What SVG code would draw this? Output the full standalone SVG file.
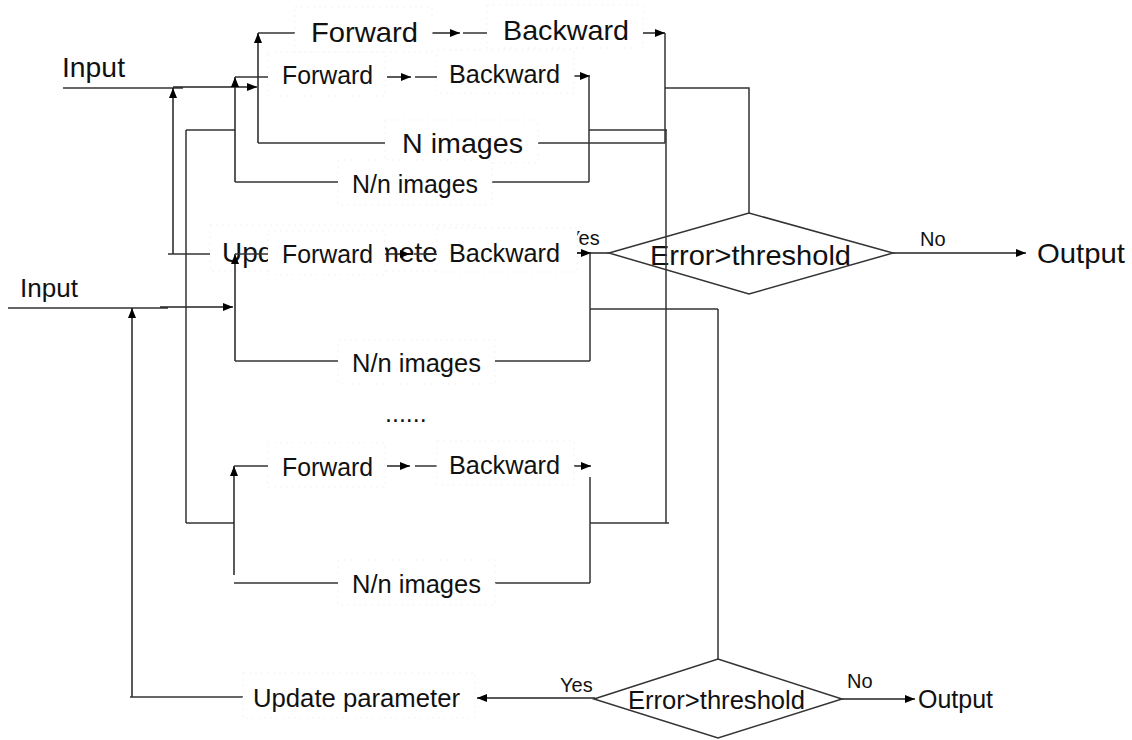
<svg xmlns="http://www.w3.org/2000/svg" width="1132" height="740" viewBox="0 0 1132 740">
<defs>
<marker id="ah" markerWidth="10" markerHeight="8" refX="10" refY="4" orient="auto" markerUnits="userSpaceOnUse">
<path d="M0,0 L10,4 L0,8 Z" fill="#000"/>
</marker>
<style>
.ln{fill:none;stroke:#333;stroke-width:1.5}
.ar{fill:none;stroke:#222;stroke-width:1.5;marker-end:url(#ah)}
.bx{fill:#fff;stroke:#f3f3f3;stroke-width:1;stroke-dasharray:2 4}
.dm{fill:none;stroke:#333;stroke-width:1.5}
text{font-family:"Liberation Sans",Arial,sans-serif;fill:#111}
.t1{font-size:28px}
.t2{font-size:25px}
.ts{font-size:20px}
</style>
</defs>
<rect width="1132" height="740" fill="#fff"/>

<!-- D1 connectors -->
<g id="connectors-d1">
<line class="ln" x1="63" y1="88" x2="183" y2="88"/>
<line class="ar" x1="173" y1="87" x2="257" y2="87"/>
<line class="ar" x1="173" y1="254" x2="173" y2="88"/>
<line class="ln" x1="168" y1="254" x2="210" y2="254"/>
<line class="ar" x1="258" y1="143" x2="258" y2="33"/>
<line class="ln" x1="258" y1="33" x2="295" y2="33"/>
<line class="ln" x1="258" y1="143" x2="385" y2="143"/>
<line class="ar" x1="432" y1="33" x2="460" y2="33"/>
<line class="ln" x1="463" y1="33" x2="487" y2="33"/>
<line class="ar" x1="643" y1="33" x2="665" y2="33"/>
<line class="ln" x1="665" y1="33" x2="665" y2="143"/>
<line class="ln" x1="538" y1="143" x2="665" y2="143"/>
<polyline class="ln" points="665,88 749,88 749,213"/>
<line class="ar" x1="609" y1="253" x2="479" y2="253"/>
<line class="ar" x1="893" y1="253" x2="1026" y2="253"/>
</g>

<!-- D1 nodes -->
<g id="d1-input"><text class="t1" x="62" y="77" textLength="63" lengthAdjust="spacingAndGlyphs">Input</text></g>
<g id="d1-forward"><rect class="bx" x="295" y="7" width="137" height="45"/><text class="t1" x="311" y="42" textLength="107" lengthAdjust="spacingAndGlyphs">Forward</text></g>
<g id="d1-backward"><rect class="bx" x="487" y="5" width="156" height="43"/><text class="t1" x="503" y="40" textLength="126" lengthAdjust="spacingAndGlyphs">Backward</text></g>
<g id="d1-nimages"><rect class="bx" x="385" y="120" width="153" height="43"/><text class="t1" x="402" y="153" textLength="121" lengthAdjust="spacingAndGlyphs">N images</text></g>
<g id="d1-update"><rect class="bx" x="210" y="225" width="267" height="46"/><text class="t1" x="222" y="262" textLength="225" lengthAdjust="spacingAndGlyphs">Update parameter</text></g>
<g id="d1-decision"><polygon class="dm" points="609,253 749,213 893,253 749,294"/><text class="t1" x="650" y="265" textLength="201" lengthAdjust="spacingAndGlyphs">Error&gt;threshold</text></g>
<g id="d1-yes"><text class="ts" x="567" y="245">Yes</text></g>
<g id="d1-no"><text class="ts" x="920" y="246">No</text></g>
<g id="d1-output"><text class="t1" x="1037" y="263" textLength="88" lengthAdjust="spacingAndGlyphs">Output</text></g>

<!-- D2 connectors -->
<g id="connectors-d2">
<line class="ln" x1="8" y1="308" x2="168" y2="308"/>
<line class="ar" x1="160" y1="307" x2="233" y2="307"/>
<line class="ar" x1="132" y1="697" x2="132" y2="308"/>
<line class="ln" x1="130" y1="697" x2="243" y2="697"/>
<line class="ln" x1="186" y1="130" x2="186" y2="523"/>
<line class="ln" x1="186" y1="130" x2="235" y2="130"/>
<line class="ln" x1="186" y1="523" x2="234" y2="523"/>
<!-- group A -->
<line class="ar" x1="235" y1="182" x2="235" y2="77"/>
<line class="ln" x1="235" y1="77" x2="268" y2="77"/>
<line class="ln" x1="235" y1="182" x2="338" y2="182"/>
<line class="ar" x1="387" y1="77" x2="411" y2="77"/>
<line class="ln" x1="415" y1="77" x2="437" y2="77"/>
<line class="ar" x1="574" y1="76" x2="590" y2="76"/>
<line class="ln" x1="589" y1="76" x2="589" y2="182"/>
<line class="ln" x1="492" y1="182" x2="589" y2="182"/>
<line class="ln" x1="589" y1="130" x2="667" y2="130"/>
<!-- group B -->
<line class="ar" x1="235" y1="361" x2="235" y2="254"/>
<line class="ln" x1="235" y1="254" x2="268" y2="254"/>
<line class="ln" x1="235" y1="361" x2="338" y2="361"/>
<line class="ar" x1="385" y1="254" x2="410" y2="254"/>
<line class="ln" x1="414" y1="254" x2="437" y2="254"/>
<line class="ar" x1="577" y1="253" x2="591" y2="253"/>
<line class="ln" x1="590" y1="253" x2="590" y2="361"/>
<line class="ln" x1="495" y1="361" x2="590" y2="361"/>
<line class="ln" x1="590" y1="309" x2="718" y2="309"/>
<line class="ln" x1="718" y1="309" x2="718" y2="659"/>
<!-- group C -->
<line class="ar" x1="234" y1="575" x2="234" y2="466"/>
<line class="ln" x1="234" y1="466" x2="268" y2="466"/>
<line class="ln" x1="234" y1="583" x2="338" y2="583"/>
<line class="ar" x1="387" y1="466" x2="410" y2="466"/>
<line class="ln" x1="415" y1="466" x2="437" y2="466"/>
<line class="ar" x1="574" y1="466" x2="591" y2="466"/>
<line class="ln" x1="590" y1="477" x2="590" y2="583"/>
<line class="ln" x1="495" y1="583" x2="590" y2="583"/>
<line class="ln" x1="590" y1="523" x2="669" y2="523"/>
<line class="ln" x1="666" y1="130" x2="666" y2="523"/>
<!-- bottom -->
<line class="ar" x1="595" y1="698" x2="477" y2="698"/>
<line class="ar" x1="842" y1="699" x2="915" y2="699"/>
</g>

<!-- D2 nodes -->
<g id="d2-input"><text class="t2" x="20" y="297" textLength="58" lengthAdjust="spacingAndGlyphs">Input</text></g>
<g id="d2-forward-a"><rect class="bx" x="268" y="52" width="117" height="44"/><text class="t2" x="282" y="84" textLength="91" lengthAdjust="spacingAndGlyphs">Forward</text></g>
<g id="d2-backward-a"><rect class="bx" x="437" y="50" width="137" height="43"/><text class="t2" x="449" y="83" textLength="111" lengthAdjust="spacingAndGlyphs">Backward</text></g>
<g id="d2-nn-a"><rect class="bx" x="338" y="160" width="154" height="45"/><text class="t2" x="352" y="193" textLength="126" lengthAdjust="spacingAndGlyphs">N/n images</text></g>
<g id="d2-forward-b"><rect class="bx" x="268" y="231" width="117" height="44"/><text class="t2" x="282" y="263" textLength="91" lengthAdjust="spacingAndGlyphs">Forward</text></g>
<g id="d2-backward-b"><rect class="bx" x="437" y="228" width="140" height="44"/><text class="t2" x="449" y="262" textLength="111" lengthAdjust="spacingAndGlyphs">Backward</text></g>
<g id="d2-nn-b"><rect class="bx" x="338" y="340" width="157" height="44"/><text class="t2" x="352" y="372" textLength="129" lengthAdjust="spacingAndGlyphs">N/n images</text></g>
<g id="d2-dots"><text class="t2" x="385" y="422">......</text></g>
<g id="d2-forward-c"><rect class="bx" x="268" y="443" width="117" height="44"/><text class="t2" x="282" y="476" textLength="91" lengthAdjust="spacingAndGlyphs">Forward</text></g>
<g id="d2-backward-c"><rect class="bx" x="437" y="441" width="137" height="44"/><text class="t2" x="449" y="474" textLength="111" lengthAdjust="spacingAndGlyphs">Backward</text></g>
<g id="d2-nn-c"><rect class="bx" x="338" y="560" width="157" height="45"/><text class="t2" x="352" y="593" textLength="129" lengthAdjust="spacingAndGlyphs">N/n images</text></g>
<g id="d2-update"><rect class="bx" x="243" y="673" width="232" height="45"/><text class="t2" x="253" y="707" textLength="207" lengthAdjust="spacingAndGlyphs">Update parameter</text></g>
<g id="d2-decision"><polygon class="dm" points="594,699 718,659 842,699 718,738"/><text class="t2" x="628" y="709" textLength="177" lengthAdjust="spacingAndGlyphs">Error&gt;threshold</text></g>
<g id="d2-yes"><text class="ts" x="560" y="692">Yes</text></g>
<g id="d2-no"><text class="ts" x="847" y="688">No</text></g>
<g id="d2-output"><text class="t2" x="918" y="708" textLength="75" lengthAdjust="spacingAndGlyphs">Output</text></g>
</svg>
